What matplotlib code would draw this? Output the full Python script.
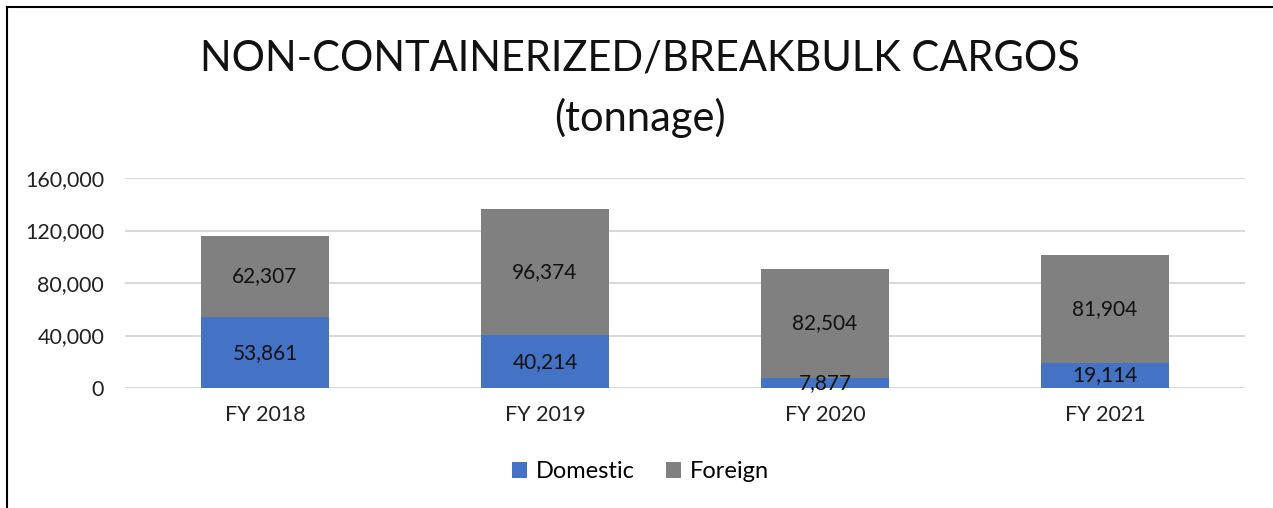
import matplotlib.pyplot as plt
from matplotlib.lines import Line2D
import numpy as np

years = ['FY 2018', 'FY 2019', 'FY 2020', 'FY 2021']
domestic = [53861, 40214, 7877, 19114]
foreign = [62307, 96374, 82504, 81904]
yticks = [0, 40000, 80000, 120000, 160000]

plt.rcParams['font.family'] = ['Lato', 'DejaVu Sans']

fig = plt.figure(figsize=(12.73, 5.08), dpi=100)
ax = fig.add_axes([125 / 1273, 1 - 388 / 508, 1120 / 1273, 210 / 508])

x = np.arange(len(years))
w = 0.457
b1 = ax.bar(x, domestic, w, color='#4472C4', label='Domestic', zorder=3)
b2 = ax.bar(x, foreign, w, bottom=domestic, color='#808080', label='Foreign', zorder=3)

for i in range(len(years)):
    ax.text(x[i], domestic[i] / 2, f'{domestic[i]:,}', ha='center', va='center',
            fontsize=15, color='#111111', zorder=4)
    ax.text(x[i], domestic[i] + foreign[i] / 2, f'{foreign[i]:,}', ha='center',
            va='center', fontsize=15, color='#111111', zorder=4)

ax.set_xlim(-0.5, len(years) - 0.5)
ax.set_ylim(0, 160000)
ax.set_yticks(yticks)
ax.set_yticklabels([f'{v:,}' for v in yticks])
ax.set_xticks(x)
ax.set_xticklabels(years)
ax.tick_params(axis='both', length=0, labelsize=15.5, colors='#222222')
ax.tick_params(axis='y', pad=15)
ax.tick_params(axis='x', pad=12)
ax.grid(axis='y', color='#d9d9d9', linewidth=1.5, zorder=0)
for s in ax.spines.values():
    s.set_visible(False)

fig.text(0.503, 1 - 89 / 508, 'NON-CONTAINERIZED/BREAKBULK CARGOS\n(tonnage)',
         ha='center', va='center', fontsize=30, color='#111111', linespacing=1.6)

fig.legend(handles=[b1, b2], loc='center', bbox_to_anchor=(0.503, 1 - 472 / 508),
           ncol=2, frameon=False, fontsize=17, handlelength=0.65, handleheight=0.65,
           handletextpad=0.35, columnspacing=1.35)

# chart border (left and top edges visible)
fig.add_artist(Line2D([6.5 / 1273, 6.5 / 1273], [0, 1 - 6.5 / 508], color='black', lw=1.5))
fig.add_artist(Line2D([6.5 / 1273, 1], [1 - 6.5 / 508, 1 - 6.5 / 508], color='black', lw=1.5))

fig.savefig('out.png', dpi=100)
